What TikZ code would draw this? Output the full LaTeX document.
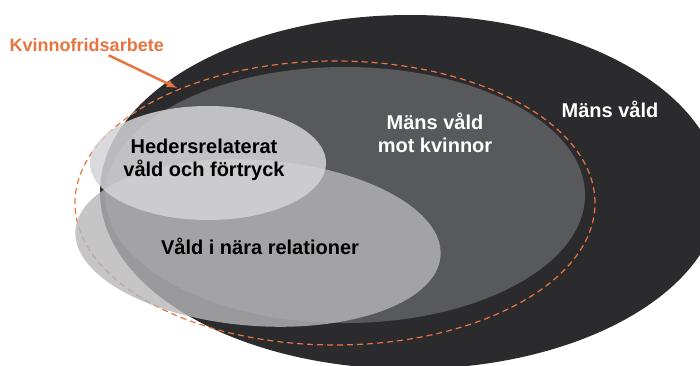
\documentclass[tikz,border=0pt]{standalone}
\usepackage{fontspec}
\setmainfont{Liberation Sans}
\usetikzlibrary{calc}
\definecolor{ytter}{RGB}{43, 43, 45}
\definecolor{mellan}{RGB}{88, 89, 91}
\definecolor{nara}{RGB}{182, 182, 184}
\definecolor{heder}{RGB}{212, 212, 214}
\definecolor{kvinno}{RGB}{232, 116, 64}

\begin{document}
\begin{tikzpicture}[x=1pt, y=1pt, thick,
  etikett/.style={font=\fontsize{20}{23}\selectfont\bfseries, align=center}]

  \useasboundingbox (0, 0) rectangle (700, 365);
  \clip (0, 0) rectangle (700, 365);

  % the two dark ellipses
  \fill[ytter] (410, 173) ellipse (310 and 177);
  \node[etikett, color=white] (mansvald) at (610, 256) {Mäns våld};

  \fill[mellan] (345, 170) ellipse (240 and 128);
  \node[etikett, color=white] (motkvinnor) at (435, 232) {Mäns våld\\mot kvinnor};

  % kvinnofridsarbete
  \draw[kvinno, line width=1.2pt, dash pattern=on 6pt off 4pt] (335, 162) ellipse (260 and 142);

  % light ellipses
  \fill[nara, fill opacity=0.8, rotate around={-4:(258, 122)}] (258, 122) ellipse (183 and 83);
  \node[etikett] (nara) at (260, 119) {Våld i nära relationer};

  \fill[heder, fill opacity=0.85] (208, 202) ellipse (118 and 57);
  \node[etikett] (heders) at (204, 205) {Hedersrelaterat\\våld och förtryck};

  \node[etikett, color=kvinno, font=\fontsize{18}{21}\selectfont\bfseries, anchor=west]
    (kvinnofrid) at (6, 320) {Kvinnofridsarbete};
  \coordinate (pil) at (177, 277);
  \draw[kvinno, line width=2.5pt, -latex] ([xshift=22pt]kvinnofrid.south) -- (pil);

\end{tikzpicture}
\end{document}
